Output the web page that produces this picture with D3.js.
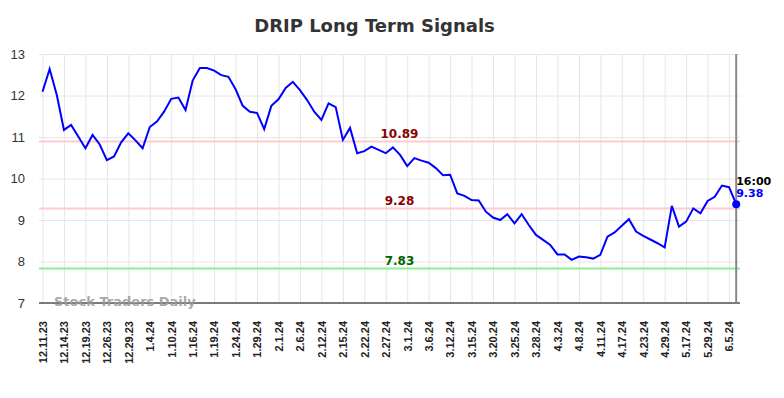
<!DOCTYPE html>
<meta charset="utf-8">
<style>
body {
  margin: 0;
  background: #fff;
  font-family: "DejaVu Sans", sans-serif;
}
.grid line {
  stroke: #e6e6e6;
  stroke-width: 1;
}
.grid path {
  display: none;
}
.axis--y text {
  font-size: 13px;
  fill: #333;
}
.axis--x text {
  font-size: 11px;
  font-weight: bold;
  fill: #222;
}
</style>
<body>
<svg width="784" height="398"></svg>
<script src="https://cdn.jsdelivr.net/npm/d3@7"></script>
<script>
// closing prices, one per session
var prices = [
  12.09, 12.64, 12.01, 11.17, 11.29, 11.01, 10.73, 11.05, 10.82, 10.44,
  10.53, 10.87, 11.09, 10.92, 10.73, 11.24, 11.37, 11.61, 11.92, 11.95,
  11.65, 12.36, 12.66, 12.66, 12.60, 12.49, 12.45, 12.15, 11.75, 11.61,
  11.58, 11.19, 11.75, 11.91, 12.18, 12.33, 12.13, 11.89, 11.61, 11.41,
  11.81, 11.72, 10.93, 11.22, 10.61, 10.66, 10.77, 10.69, 10.61, 10.75,
  10.57, 10.30, 10.49, 10.43, 10.38, 10.25, 10.08, 10.09, 9.64, 9.58,
  9.48, 9.47, 9.20, 9.06, 9.00, 9.14, 8.92, 9.14, 8.88, 8.64,
  8.52, 8.40, 8.17, 8.17, 8.04, 8.12, 8.10, 8.07, 8.16, 8.60,
  8.70, 8.86, 9.02, 8.72, 8.62, 8.53, 8.44, 8.34, 9.34, 8.84,
  8.96, 9.28, 9.16, 9.46, 9.56, 9.83, 9.79, 9.38
];

// date labels, one every 3rd session
var dateLabels = [
  "12.11.23", "12.14.23", "12.19.23", "12.26.23", "12.29.23", "1.4.24",
  "1.10.24", "1.16.24", "1.19.24", "1.24.24", "1.29.24", "2.1.24",
  "2.6.24", "2.12.24", "2.15.24", "2.22.24", "2.27.24", "3.1.24",
  "3.6.24", "3.12.24", "3.15.24", "3.20.24", "3.25.24", "3.28.24",
  "4.3.24", "4.8.24", "4.11.24", "4.17.24", "4.23.24", "4.29.24",
  "5.17.24", "5.29.24", "6.5.24"
];

var yTicks = [7, 8, 9, 10, 11, 12, 13];

// signal levels
var levels = [10.89, 9.28, 7.83];
var levelColors = ["#ffcccc", "#ffcccc", "#90ee90"];
var levelTextColors = ["#8b0000", "#8b0000", "#006400"];

var lastTime = "16:00";

var svg = d3.select("svg"),
    plotLeft = 42.5, plotRight = 736.2,
    plotTop = 54, plotBottom = 303;

var x = d3.scaleLinear().domain([0, prices.length - 1]).range([plotLeft, plotRight]),
    y = d3.scaleLinear().domain([7, 13]).range([plotBottom, plotTop]);

var tickIdx = dateLabels.map(function(d, i) { return i * 3; });

// title
svg.append("text")
    .attr("x", 374.5)
    .attr("y", 32)
    .attr("text-anchor", "middle")
    .style("font-size", "18px")
    .style("font-weight", "bold")
    .style("fill", "#333")
    .text("DRIP Long Term Signals");

// horizontal grid + y labels
svg.append("g")
    .attr("class", "grid axis--y")
    .attr("transform", "translate(39,0)")
    .call(d3.axisLeft(y).tickValues(yTicks).tickSize(-(740 - 39)).tickPadding(14).tickFormat(d3.format("d")))
    .call(function(g) { g.select(".domain").remove(); });

// vertical grid + date labels
var xAxis = svg.append("g")
    .attr("class", "grid axis--x")
    .attr("transform", "translate(0," + plotBottom + ")")
    .call(d3.axisBottom(x).tickValues(tickIdx).tickSize(-(plotBottom - plotTop))
      .tickFormat(function(d, i) { return dateLabels[i]; }));

xAxis.selectAll("text")
    .attr("transform", "rotate(-90)")
    .attr("x", -18)
    .attr("y", 0)
    .attr("dy", "0.35em")
    .style("text-anchor", "end");

// signal lines
svg.selectAll(".level")
  .data(levels)
  .enter().append("line")
    .attr("class", "level")
    .attr("x1", 39)
    .attr("x2", 740)
    .attr("y1", function(d) { return y(d); })
    .attr("y2", function(d) { return y(d); })
    .style("stroke", function(d, i) { return levelColors[i]; })
    .style("stroke-width", 2);

svg.selectAll(".level-label")
  .data(levels)
  .enter().append("text")
    .attr("class", "level-label")
    .attr("x", 399.5)
    .attr("y", function(d) { return y(d) - 3.5; })
    .attr("text-anchor", "middle")
    .style("font-size", "12px")
    .style("font-weight", "bold")
    .style("fill", function(d, i) { return levelTextColors[i]; })
    .text(function(d) { return d.toFixed(2); });

// bottom axis line
svg.append("line")
    .attr("x1", 39).attr("x2", 740)
    .attr("y1", plotBottom).attr("y2", plotBottom)
    .style("stroke", "#555")
    .style("stroke-width", 1.5);

// right edge marker
svg.append("line")
    .attr("x1", x(prices.length - 1)).attr("x2", x(prices.length - 1))
    .attr("y1", plotTop).attr("y2", plotBottom)
    .style("stroke", "#888")
    .style("stroke-width", 2);

// watermark
svg.append("text")
    .attr("x", 54)
    .attr("y", 306)
    .style("font-size", "13px")
    .style("font-weight", "bold")
    .style("fill", "#999")
    .style("fill-opacity", 0.85)
    .text("Stock Traders Daily");

// price line
var line = d3.line()
    .x(function(d, i) { return x(i); })
    .y(function(d) { return y(d); });

svg.append("path")
    .datum(prices)
    .attr("d", line)
    .style("fill", "none")
    .style("stroke", "#0000ff")
    .style("stroke-width", 2);

var last = prices[prices.length - 1];

svg.append("circle")
    .attr("cx", x(prices.length - 1))
    .attr("cy", y(last))
    .attr("r", 4)
    .style("fill", "#0000ff");

svg.append("text")
    .attr("x", x(prices.length - 1))
    .attr("y", 185)
    .style("font-size", "11px")
    .style("font-weight", "bold")
    .style("fill", "#000")
    .text(lastTime);

svg.append("text")
    .attr("x", x(prices.length - 1))
    .attr("y", 197)
    .style("font-size", "11px")
    .style("font-weight", "bold")
    .style("fill", "#0000ff")
    .text(last.toFixed(2));
</script>
</body>
